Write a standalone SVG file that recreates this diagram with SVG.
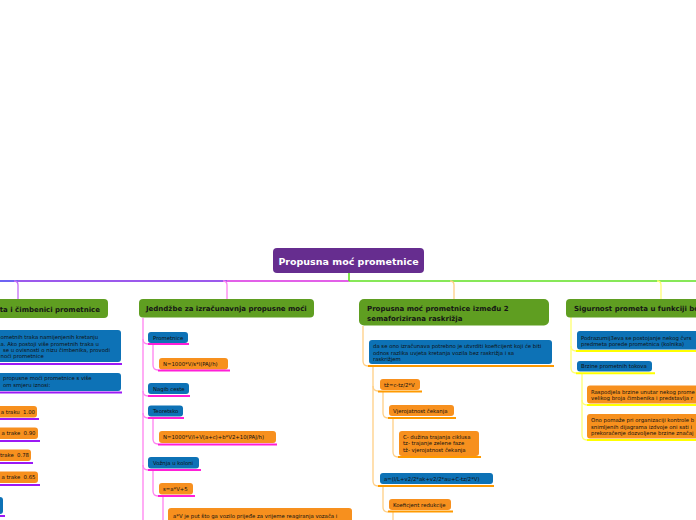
<svg xmlns="http://www.w3.org/2000/svg" width="696" height="520" viewBox="0 0 696 520">
<style>
.main{fill:#5f9e21}
.blue{fill:#0d72b6}
.org{fill:#f7901e}
.mt{font-family:"DejaVu Sans",Verdana,sans-serif;font-weight:bold;font-size:7px;fill:#151515}
.t{font-family:"DejaVu Sans",Verdana,sans-serif;font-size:5.35px;fill:#111111}
.c{fill:none;stroke-linecap:round}
.u1{stroke:#9b19f5;stroke-width:2;fill:none}
.u2{stroke:#ff1fd8;stroke-width:2;fill:none}
.u3{stroke:#ff9a00;stroke-width:2;fill:none}
.u4{stroke:#ffff00;stroke-width:2;fill:none}
.v1{stroke:#c46cf5;stroke-width:1.3;fill:none}
.v2{stroke:#ff80f0;stroke-width:1.3;fill:none}
.v3{stroke:#ffcf85;stroke-width:1.3;fill:none}
.v4{stroke:#ffff70;stroke-width:1.3;fill:none}
</style>
<rect width="696" height="520" fill="#ffffff"/>

<g id="connectors">
  <line x1="0" y1="281" x2="18" y2="281" stroke="#4a3cf0" stroke-width="1.6"/>
  <line x1="18" y1="281" x2="227" y2="281" stroke="#7a22e6" stroke-width="1.6"/>
  <line x1="227" y1="281" x2="349" y2="281" stroke="#d82be0" stroke-width="1.6"/>
  <line x1="349" y1="281" x2="696" y2="281" stroke="#5fe020" stroke-width="1.6"/>
  <line x1="349" y1="273" x2="349" y2="281" stroke="#5fe020" stroke-width="1.6"/>
  <path class="v1" d="M14 281 Q18 281 18 285 V299"/>
  <path class="v2" d="M223 281 Q227 281 227 285 V299"/>
  <path class="v3" d="M450 281 Q454 281 454 285 V299"/>
  <path class="v4" d="M657 281 Q661 281 661 285 V299"/>

  <!-- column 2 -->
  <path class="v2" d="M143 318 V520"/>
  <path class="v2" d="M143 339 Q143 344 148 344"/>
  <path class="v2" d="M143 391 Q143 396 148 396"/>
  <path class="v2" d="M143 413 Q143 418 148 418"/>
  <path class="v2" d="M143 465 Q143 470 148 470"/>
  <path class="v2" d="M153 344 V365 Q153 370 158 370"/>
  <path class="v2" d="M153 418 V439 Q153 444 158 444"/>
  <path class="v2" d="M153 470 V491 Q153 496 158 496"/>
  <path class="v2" d="M163 496 V520"/>

  <!-- column 3 -->
  <path class="v3" d="M363 326 V361 Q363 366 368 366"/>
  <path class="v3" d="M373 366 V481 Q373 486 378 486"/>
  <path class="v3" d="M373 386 Q373 391 378 391"/>
  <path class="v3" d="M383 391 V413 Q383 418 388 418"/>
  <path class="v3" d="M393 418 V452 Q393 457 398 457"/>
  <path class="v3" d="M383 486 V507 Q383 512 388 512"/>
  <path class="v3" d="M393 512 V520"/>

  <!-- column 4 -->
  <path class="v4" d="M571 317 V368 Q571 373 576 373"/>
  <path class="v4" d="M571 346 Q571 351 576 351"/>
  <path class="v4" d="M582 373 V435 Q582 440 587 440"/>
  <path class="v4" d="M582 400 Q582 405 587 405"/>
</g>

<g id="central">
  <rect x="273" y="248" width="151" height="25" rx="4" fill="#662d8f"/>
  <text x="348.5" y="264.5" text-anchor="middle" font-family="DejaVu Sans,Verdana,sans-serif" font-weight="bold" font-size="9.5" fill="#ffffff">Propusna moć prometnice</text>
</g>

<g id="topic1">
  <rect x="-10" y="299" width="118" height="19" rx="4" class="main"/>
  <text x="100" y="311.5" text-anchor="end" class="mt">eta i čimbenici prometnice</text>
</g>
<g id="t1-n1">
  <rect x="-10" y="330" width="131" height="32" rx="3" class="blue"/>
  <text x="0.5" y="339.3" class="t">ometnih traka namijenjenih kretanju</text>
  <text x="0.5" y="345.6" class="t">a. Ako postoji više prometnih traka u</text>
  <text x="3" y="351.9" class="t">se u ovisnosti o nizu čimbenika, provodi</text>
  <text x="0.5" y="358.2" class="t">noći prometnice</text>
  <line x1="0" y1="364" x2="122" y2="364" class="u1"/>
</g>
<g id="t1-n2">
  <rect x="-10" y="373" width="131" height="18" rx="3" class="blue"/>
  <text x="3" y="380.3" class="t">propusne moći prometnice s više</text>
  <text x="3" y="386.6" class="t">om smjeru iznosi:</text>
  <line x1="0" y1="392.5" x2="122" y2="392.5" class="u1"/>
</g>
<g id="t1-n3">
  <rect x="-10" y="406" width="47" height="11.5" rx="3" class="org"/>
  <text x="35" y="413.8" text-anchor="end" class="t">a traku&#160; 1.00</text>
  <line x1="0" y1="419" x2="39" y2="419" class="u1"/>
</g>
<g id="t1-n4">
  <rect x="-10" y="427.5" width="48" height="11.5" rx="3" class="org"/>
  <text x="35.5" y="435.3" text-anchor="end" class="t">a trake&#160; 0.90</text>
  <line x1="0" y1="441" x2="40" y2="441" class="u1"/>
</g>
<g id="t1-n5">
  <rect x="-10" y="449.5" width="41" height="11.5" rx="3" class="org"/>
  <text x="29" y="457.3" text-anchor="end" class="t">trake&#160; 0.78</text>
  <line x1="0" y1="463" x2="33" y2="463" class="u1"/>
</g>
<g id="t1-n6">
  <rect x="-10" y="471.5" width="48" height="11.5" rx="3" class="org"/>
  <text x="35.5" y="479.3" text-anchor="end" class="t">a trake&#160; 0.65</text>
  <line x1="0" y1="485" x2="40" y2="485" class="u1"/>
</g>
<g id="t1-n7">
  <rect x="-10" y="497" width="13" height="17" rx="3" class="blue"/>
  <line x1="0" y1="516" x2="5" y2="516" class="u1"/>
</g>

<g id="topic2">
  <rect x="139" y="299" width="175" height="18.5" rx="4" class="main"/>
  <text x="146" y="311.3" class="mt">Jedndžbe za izračunavnja propusne moći</text>
</g>
<g id="t2-prometnice">
  <rect x="148" y="332" width="40" height="11" rx="3" class="blue"/>
  <text x="153" y="339.5" class="t">Prometnice</text>
  <line x1="148" y1="344" x2="189" y2="344" class="u2"/>
</g>
<g id="t2-f1">
  <rect x="159" y="358" width="69" height="11.5" rx="3" class="org"/>
  <text x="163" y="365.7" class="t">N=1000*V/s*l(PAJ/h)</text>
  <line x1="158" y1="370.5" x2="230" y2="370.5" class="u2"/>
</g>
<g id="t2-nagib">
  <rect x="148" y="383" width="41" height="11" rx="3" class="blue"/>
  <text x="153" y="390.5" class="t">Nagib ceste</text>
  <line x1="148" y1="396" x2="190" y2="396" class="u2"/>
</g>
<g id="t2-teoretsko">
  <rect x="148" y="405.5" width="35" height="11" rx="3" class="blue"/>
  <text x="153" y="413" class="t">Teoretsko</text>
  <line x1="148" y1="418" x2="184" y2="418" class="u2"/>
</g>
<g id="t2-f2">
  <rect x="159" y="431" width="117" height="12" rx="3" class="org"/>
  <text x="163" y="439" class="t">N=1000*V/l+V(a+c)+b*V2+10(PAJ/h)</text>
  <line x1="158" y1="444.5" x2="277" y2="444.5" class="u2"/>
</g>
<g id="t2-kolona">
  <rect x="148" y="457" width="51" height="11.5" rx="3" class="blue"/>
  <text x="153" y="464.8" class="t">Vožnja u koloni</text>
  <line x1="148" y1="470" x2="201" y2="470" class="u2"/>
</g>
<g id="t2-s">
  <rect x="159" y="483" width="34" height="11.5" rx="3" class="org"/>
  <text x="163" y="490.8" class="t">s=a*V+5</text>
  <line x1="158" y1="496" x2="195" y2="496" class="u2"/>
</g>
<g id="t2-av">
  <rect x="168" y="508" width="184" height="24" rx="3" class="org"/>
  <text x="173" y="517.6" class="t">a*V je put što ga vozilo prijeđe za vrijeme reagiranja vozača i</text>
  <text x="173" y="524.5" class="t">vremena za kočenje</text>
</g>

<g id="topic3">
  <rect x="359" y="299" width="190" height="26.5" rx="5" class="main"/>
  <text x="367" y="310.8" class="mt">Propusna moć prometnice između 2</text>
  <text x="367" y="320.8" class="mt">semaforizirana raskrižja</text>
</g>
<g id="t3-koef">
  <rect x="369" y="340" width="183" height="24" rx="3" class="blue"/>
  <text x="373" y="348" class="t">da se ono izračunava potrebno je utvrditi koeficijent koji će biti</text>
  <text x="373" y="354.6" class="t">odnos razlika uvjeta kretanja vozila bez raskrižja i sa</text>
  <text x="373" y="361.2" class="t">raskrižjem</text>
  <line x1="368" y1="366" x2="554" y2="366" class="u3"/>
</g>
<g id="t3-tz">
  <rect x="380" y="379" width="40" height="11" rx="3" class="org"/>
  <text x="384" y="386.5" class="t">tž=c-tz/2*V</text>
  <line x1="378" y1="391.5" x2="422" y2="391.5" class="u3"/>
</g>
<g id="t3-vjer">
  <rect x="389" y="405" width="65" height="11" rx="3" class="org"/>
  <text x="393" y="412.6" class="t">Vjerojatnost čekanja</text>
  <line x1="388" y1="418" x2="456" y2="418" class="u3"/>
</g>
<g id="t3-c">
  <rect x="399" y="431" width="80" height="25" rx="3" class="org"/>
  <text x="403" y="438.7" class="t">C- dužina trajanja ciklusa</text>
  <text x="403" y="445" class="t">tz- trajanje zelene faze</text>
  <text x="403" y="451.8" class="t">tž- vjerojatnost čekanja</text>
  <line x1="398" y1="457" x2="481" y2="457" class="u3"/>
</g>
<g id="t3-a">
  <rect x="380" y="473" width="113" height="11" rx="3" class="blue"/>
  <text x="384" y="480.6" class="t">a=(l/L+v2/2*ak+v2/2*au+C-tz/2*V)</text>
  <line x1="378" y1="486" x2="494" y2="486" class="u3"/>
</g>
<g id="t3-red">
  <rect x="389" y="499" width="62" height="11" rx="3" class="org"/>
  <text x="393" y="506.6" class="t">Koeficjent redukcije</text>
  <line x1="388" y1="511.5" x2="453" y2="511.5" class="u3"/>
</g>

<g id="topic4">
  <rect x="566" y="299" width="140" height="18.5" rx="4" class="main"/>
  <text x="574" y="311.3" class="mt">Sigurnost prometa u funkciji bo</text>
</g>
<g id="t4-pod">
  <rect x="577" y="331" width="130" height="18.5" rx="3" class="blue"/>
  <text x="581" y="339.8" class="t">Podrazumij3eva se postojanje nekog čvrs</text>
  <text x="581" y="346.4" class="t">predmeta porede prometnica (kolnika)</text>
  <line x1="576" y1="351" x2="696" y2="351" class="u4"/>
</g>
<g id="t4-brzine">
  <rect x="577" y="361" width="75" height="10.5" rx="3" class="blue"/>
  <text x="581" y="368.3" class="t">Brzine prometnih tokova</text>
  <line x1="576" y1="373.3" x2="655" y2="373.3" class="u4"/>
</g>
<g id="t4-rasp">
  <rect x="587" y="385.5" width="120" height="18" rx="3" class="org"/>
  <text x="591" y="393.5" class="t">Raspodjela brzine unutar nekog prome</text>
  <text x="591" y="400.2" class="t">velikog broja čimbenika i predstavlja r</text>
  <line x1="587" y1="405" x2="696" y2="405" class="u4"/>
</g>
<g id="t4-ono">
  <rect x="587" y="414" width="120" height="24.5" rx="3" class="org"/>
  <text x="591" y="422" class="t">Ono pomaže pri organizaciji kontrole b</text>
  <text x="591" y="428.6" class="t">snimljenih dijagrama izdvoje oni sati i</text>
  <text x="591" y="435.2" class="t">prekoračenje dozvoljene brzine značaj</text>
  <line x1="587" y1="440" x2="696" y2="440" class="u4"/>
</g>
</svg>
